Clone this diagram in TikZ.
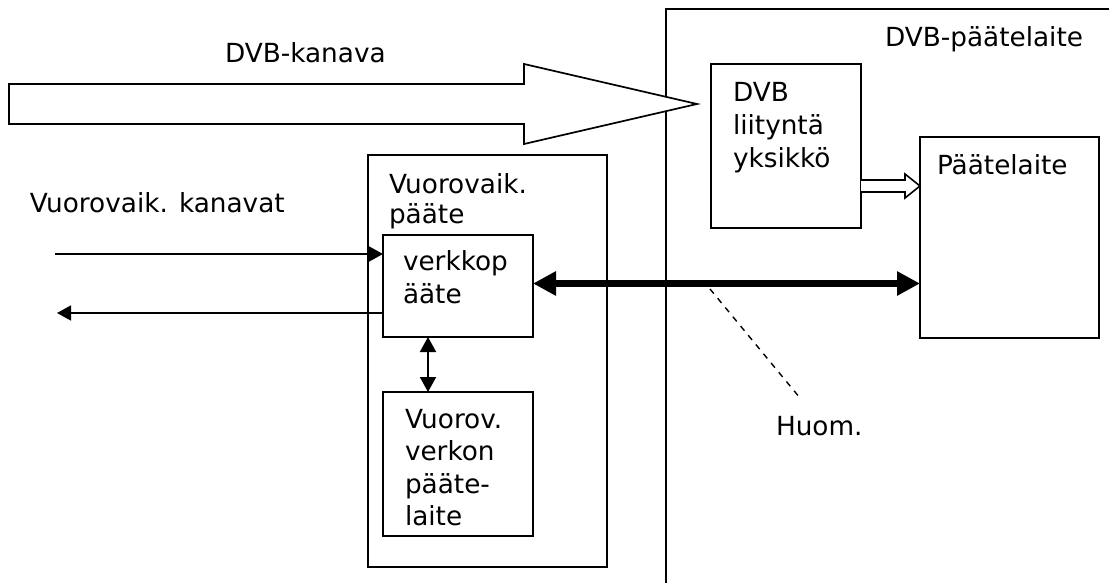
\documentclass[tikz,border=0pt]{standalone}
\usepackage{fontspec}
\setmainfont{DejaVu Sans}
\usetikzlibrary{arrows.meta,calc}
\begin{document}
\begin{tikzpicture}[x=1pt,y=-1pt,
  boxst/.style={draw,line width=1.7pt,inner sep=0pt,outer sep=0pt},
  lbl/.style={inner sep=0pt,outer sep=0pt,anchor=base west,font=\fontsize{26.3}{33}\selectfont},
  mtxt/.style={inner sep=0pt,outer sep=0pt,align=left,anchor=north west,font=\fontsize{26.3}{#1}\selectfont},
  conn/.style={line width=1.6pt},
]
\useasboundingbox (0,0) rectangle (1109,583);

% outer DVB terminal container (runs off the page)
\coordinate (tr) at (1109,9);
\coordinate (tl) at (666,9);
\coordinate (bl) at (666,583);
\draw[line width=1.7pt] (tr) -- (tl) -- (bl);
\node[lbl] (dvbterm) at (885,47) {DVB-päätelaite};

% boxes
\node[boxst,minimum width=150pt,minimum height=164pt] (dvb) at (786,146) {};
\node[mtxt=33] (dvbt) at (733,78.9) {\strut DVB\\liityntä\\yksikkö};

\node[boxst,minimum width=179pt,minimum height=201pt] (pl) at (1009.5,237.5) {};
\node[lbl] (plt) at (937,175) {Päätelaite};

\node[boxst,minimum width=239pt,minimum height=412pt] (vp) at (487.5,361) {};
\node[mtxt=30] (vpt) at (389,172) {\strut Vuorovaik.\\pääte};

\node[boxst,fill=white,minimum width=150pt,minimum height=102pt] (vk) at (458,286) {};
\node[mtxt=33] (vkt) at (403,246.9) {\strut verkkop\\ääte};

\node[boxst,minimum width=150pt,minimum height=144pt] (vv) at (458,464) {};
\node[mtxt=32.5] (vvt) at (405,405.25) {\strut Vuorov.\\verkon\\pääte-\\laite};

% DVB channel big arrow
\draw[line width=1.7pt,fill=white] (9,84) -- (524,84) -- (524,64) -- (697,104) -- (524,144) -- (524,124) -- (9,124) -- cycle;
\node[lbl] (kan) at (225,63) {DVB-kanava};

% hollow arrow DVB interface -> terminal
\draw[line width=1.6pt,fill=white] (dvb.east |- 0,180) -- (905,180) -- (905,174) -- (pl.west |- 0,186) -- (905,198) -- (905,192) -- (dvb.east |- 0,192);

% interactive channels
\node[lbl] (vkan) at (30,212) {Vuorovaik. kanavat};
\coordinate (inS) at (55,254);
\coordinate (outE) at (57,313);
\draw[conn,-{Triangle[length=14pt,width=15pt]}] (inS) -- (vk.west |- inS);
\draw[conn,-{Triangle[length=14pt,width=15pt]}] (vk.west |- outE) -- (outE);

% vertical double arrow
\draw[line width=2pt,{Triangle[length=15pt,width=16pt]}-{Triangle[length=15pt,width=16pt]}] (vk.south -| 428,0) -- (vv.north -| 428,0);

% thick double arrow
\draw[line width=7pt,{Triangle[length=23pt,width=23pt]}-{Triangle[length=23pt,width=23pt]}] (vk.east |- 0,283.5) -- (pl.west |- 0,283.5);

% note
\coordinate (d1) at (710,289);
\coordinate (d2) at (800,398);
\draw[line width=1.4pt,dash pattern=on 6pt off 6pt] (d1) -- (d2);
\node[lbl] (huom) at (776,435) {Huom.};
\end{tikzpicture}
\end{document}
